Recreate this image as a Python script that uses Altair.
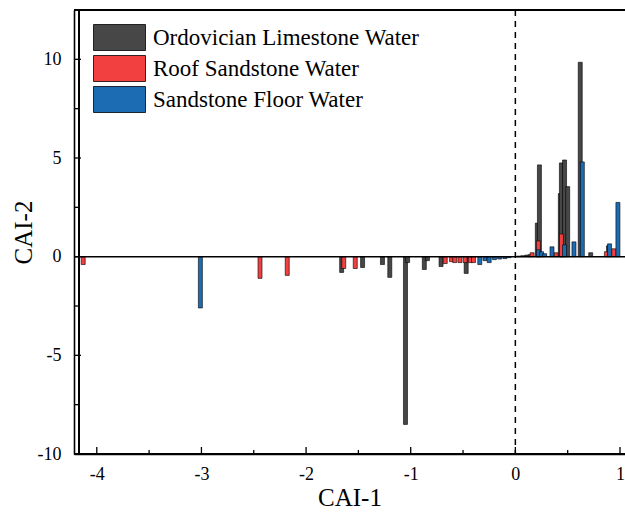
import altair as alt
import pandas as pd

series = ["Ordovician Limestone Water", "Roof Sandstone Water", "Sandstone Floor Water"]
colors = ["#474747", "#f23f3f", "#1c6cb4"]

gray_x = [-1.66, -1.46, -1.27, -1.20, -1.05, -1.03, -0.87, -0.84, -0.71, -0.47,
          0.03, 0.07, 0.11, 0.14, 0.21, 0.23, 0.43, 0.44, 0.47, 0.50, 0.62, 0.72, 0.89]
gray_y = [-0.8, -0.55, -0.4, -1.05, -8.5, -0.3, -0.65, -0.2, -0.5, -0.85,
          0.03, 0.05, 0.08, 0.1, 1.7, 4.65, 3.2, 4.75, 4.9, 3.55, 9.85, 0.2, 0.55]

red_x = [-4.13, -2.44, -2.18, -1.64, -1.53, -0.67, -0.61, -0.58, -0.53, -0.48, -0.43, -0.40,
         0.16, 0.22, 0.39, 0.44, 0.87, 0.94]
red_y = [-0.4, -1.1, -0.95, -0.6, -0.6, -0.35, -0.25, -0.3, -0.3, -0.3, -0.3, -0.3,
         0.2, 0.8, 0.2, 1.15, 0.25, 0.4]

blue_x = [-3.01, -0.34, -0.29, -0.25, -0.20, -0.15, -0.10, -0.06,
          0.22, 0.25, 0.28, 0.35, 0.47, 0.56, 0.64, 0.90, 0.98]
blue_y = [-2.6, -0.4, -0.2, -0.3, -0.15, -0.12, -0.1, -0.05,
          0.35, 0.25, 0.15, 0.5, 0.6, 0.75, 4.8, 0.65, 2.75]

x_major = [-4, -3, -2, -1, 0, 1]
x_minor = [-3.5, -2.5, -1.5, -0.5, 0.5]
y_major = [-10, -5, 0, 5, 10]
y_minor = [-7.5, -2.5, 2.5, 7.5]
x_domain = [-4.17, 1.0]
y_domain = [-10, 12.5]

rows = []
for name, xs, ys in zip(series, [gray_x, red_x, blue_x], [gray_y, red_y, blue_y]):
    for a, b in zip(xs, ys):
        rows.append({"CAI-1": a, "CAI-2": b, "Water": name})
df = pd.DataFrame(rows)

W, H = 551, 444
FONT = "Liberation Serif"
xscale = alt.Scale(domain=x_domain, nice=False, zero=False)
yscale = alt.Scale(domain=y_domain, nice=False, zero=False)

xaxis = alt.Axis(values=x_major, ticks=False, grid=False, title="CAI-1",
                 labelExpr="'' + datum.value",
                 labelFont=FONT, labelFontSize=18, labelColor="black", labelPadding=11,
                 titleFont=FONT, titleFontSize=25, titleFontWeight="normal",
                 titleColor="black", titlePadding=2, labelFlush=False,
                 domainColor="black", domainWidth=1.6)
yaxis = alt.Axis(values=y_major, ticks=False, grid=False, title="CAI-2",
                 labelExpr="'' + datum.value",
                 labelFont=FONT, labelFontSize=18, labelColor="black", labelPadding=13,
                 titleFont=FONT, titleFontSize=25, titleFontWeight="normal",
                 titleColor="black", titlePadding=1, labelFlush=False,
                 domainColor="black", domainWidth=1.6)

def X():
    return alt.X("CAI-1:Q", scale=xscale, axis=xaxis)

def Y(**kw):
    return alt.Y("CAI-2:Q", scale=yscale, axis=yaxis, **kw)

bars = alt.Chart(df).mark_bar(orient="vertical", size=4, stroke="black", strokeWidth=0.6).encode(
    x=X(),
    y=Y(stack=None),
    color=alt.Color("Water:N", scale=alt.Scale(domain=series, range=colors),
                    legend=alt.Legend(title=None, orient="none", legendX=19, legendY=14,
                                      symbolType="M-1,-1L3,-1L3,1L-1,1Z", symbolSize=676,
                                      symbolStrokeColor="black", symbolStrokeWidth=0.8,
                                      symbolOpacity=1, labelFont=FONT, labelFontSize=23,
                                      labelColor="black", labelOffset=33, rowPadding=0,
                                      padding=0, labelLimit=400)),
)

zero_line = alt.Chart(pd.DataFrame({"CAI-2": [0]})).mark_rule(color="black", strokeWidth=1.5).encode(
    y=Y())

dash_line = alt.Chart(pd.DataFrame({"CAI-1": [0]})).mark_rule(
    color="black", strokeWidth=1.5, strokeDash=[6, 5]).encode(x=X())

xt_major = alt.Chart(pd.DataFrame({"CAI-1": x_major})).mark_rule(color="black", strokeWidth=1.3).encode(
    x=X(), y=alt.value(H), y2=alt.value(H - 7))
xt_minor = alt.Chart(pd.DataFrame({"CAI-1": x_minor})).mark_rule(color="black", strokeWidth=1.3).encode(
    x=X(), y=alt.value(H), y2=alt.value(H - 4))
yt_major = alt.Chart(pd.DataFrame({"CAI-2": y_major})).mark_rule(color="black", strokeWidth=1.3).encode(
    y=Y(), x=alt.value(0), x2=alt.value(7))
yt_minor = alt.Chart(pd.DataFrame({"CAI-2": y_minor})).mark_rule(color="black", strokeWidth=1.3).encode(
    y=Y(), x=alt.value(0), x2=alt.value(4))

# frame lines along the top, left and bottom edges of the plot area
frame_h = alt.Chart(pd.DataFrame({"CAI-2": [y_domain[1], y_domain[0]]})).mark_rule(
    color="black", strokeWidth=2).encode(y=Y())
frame_v = alt.Chart(pd.DataFrame({"CAI-1": [x_domain[0]]})).mark_rule(
    color="black", strokeWidth=2).encode(x=X())

chart = alt.layer(bars, dash_line, zero_line, xt_major, xt_minor, yt_major, yt_minor,
                  frame_h, frame_v).properties(
    width=W, height=H,
    autosize=alt.AutoSizeParams(type="none"),
    padding={"left": 74, "top": 10, "right": 0, "bottom": 65},
).configure_view(stroke="black", strokeWidth=1.5, strokeOpacity=1).configure(background="white")

chart.save("out.html", embed_options={"renderer": "svg", "actions": False})
